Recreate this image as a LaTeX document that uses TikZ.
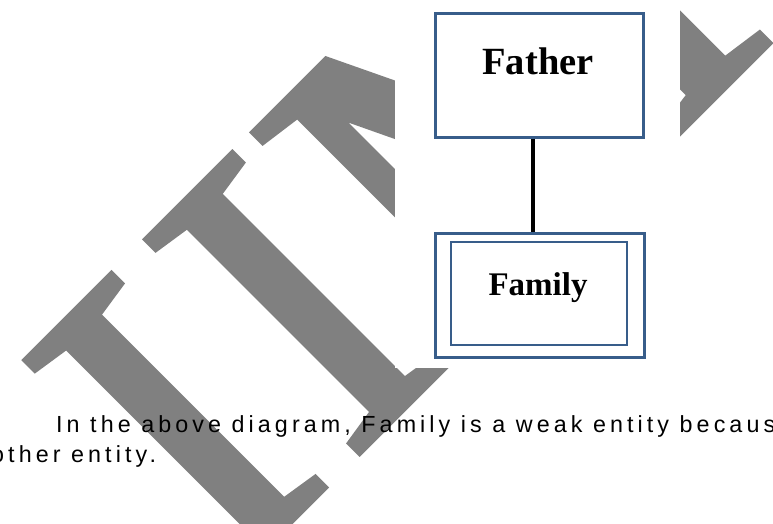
\documentclass[tikz,border=0pt]{standalone}
\usepackage{fontspec}
\setmainfont{Liberation Serif}
\newfontfamily\bodyfont[LetterSpace=17.5]{Liberation Sans}
\newfontfamily\wmfont[LetterSpace=4.1,FakeBold=1.7]{Liberation Serif}
\newfontfamily\wmwide[LetterSpace=4.1,FakeBold=1.7,FakeStretch=1.12]{Liberation Serif}
\definecolor{wmgray}{HTML}{808080}
\definecolor{boxblue}{HTML}{385D8A}
\tikzset{
  entity/.style={draw=boxblue, line width=3pt, fill=white, inner sep=0pt},
  inneredge/.style={draw=boxblue, line width=2pt, inner sep=0pt},
  label/.style={font=\bfseries, inner sep=0pt, anchor=base},
  bodytext/.style={font=\bodyfont\fontsize{23.3pt}{30pt}\selectfont, inner sep=0pt, anchor=base west},
  link/.style={line width=4pt, black},
  watermark/.style={text=wmgray, font=\wmfont\fontsize{458pt}{458pt}\selectfont, inner sep=0pt, anchor=base west, rotate=45}
}
\begin{document}
\begin{tikzpicture}[x=1pt,y=-1pt]
\useasboundingbox (0,0) rectangle (773,523);
\clip (0,0) rectangle (773,523);
\fill[white] (0,0) rectangle (773,523);
% watermark
\node[watermark] (wm) at (227,584) {II{\wmwide M}};
% white area of the diagram picture
\fill[white] (395,0) rectangle (680,368);
% entities
\node[entity, minimum width=208pt, minimum height=124pt] (father) at (539,75) {};
\node[label, font=\bfseries\fontsize{38.5pt}{40pt}\selectfont] (fathertext) at (538,74) {Father};
\node[entity, minimum width=209pt, minimum height=124pt] (family) at (539.5,295) {};
\node[inneredge, minimum width=176pt, minimum height=103pt] (familyin) at (539,293.5) {};
\node[label, font=\bfseries\fontsize{33pt}{35pt}\selectfont] (familytext) at (538,295) {Family};
\draw[link] (father.south -| 533,0) -- (family.north -| 533,0);
% body text
\node[bodytext] (line1) at (56,432) {In the above diagram, Family is a weak entity becaus};
\node[bodytext] (line2) at (-9,462) {other entity.};
\end{tikzpicture}
\end{document}
